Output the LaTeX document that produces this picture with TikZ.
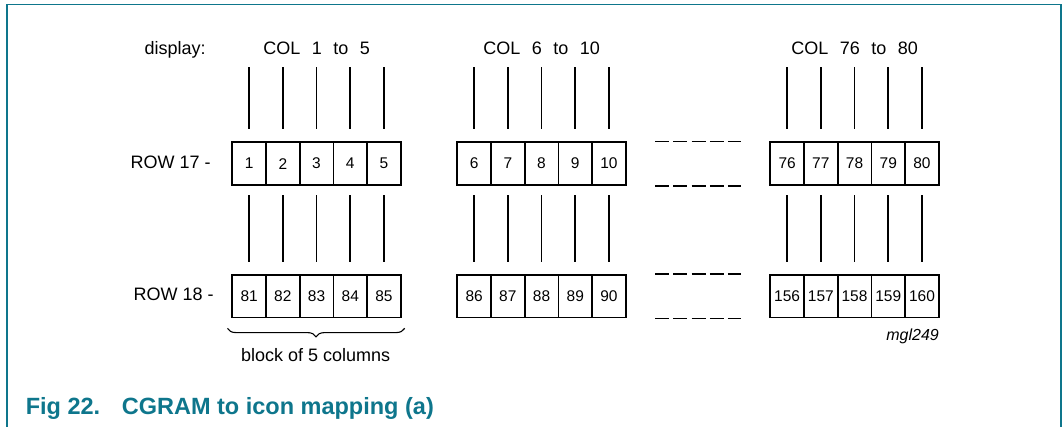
\documentclass[tikz,border=0pt]{standalone}
\usepackage{fontspec}
\setmainfont{Liberation Sans}
\usepackage{xcolor}
\usepackage{tikz}
\usetikzlibrary{positioning,decorations.pathreplacing}
\definecolor{figteal}{RGB}{14,118,140}
\newcommand{\colgap}{\hspace{11.5pt}}

\begin{document}
\begin{tikzpicture}[x=1pt, y=-1pt, line width=1.7pt,
    cell/.style={draw, minimum width=33.7pt, minimum height=42.7pt, inner sep=0pt, font=\fontsize{15.5}{18}\selectfont},
    txt/.style={inner sep=0pt, font=\fontsize{18}{21}\selectfont},
    gapline/.style={line width=1.5pt, dash pattern=on 14pt off 4.2pt, shorten <=28.5pt, shorten >=28.5pt}]

\useasboundingbox (0,0) rectangle (1063,427);

% Frame
\draw[figteal, line width=1.6pt] (7,427) -- (7,4.5) -- (1061,4.5) -- (1061,427);

% Cells, columns and wires
\foreach \blk/\first/\lx in {a/1/232.3, b/6/457.3, c/76/770.3} {
  \foreach \i in {0,...,4} {
    \pgfmathtruncatemacro{\rowa}{\first+\i}
    \pgfmathtruncatemacro{\rowb}{\first+\i+80}
    \node[cell] (cell\rowa) at ({\lx+16.85+33.7*\i},163.65) {\rowa};
    \node[cell] (cell\rowb) at ({\lx+16.85+33.7*\i},296.15) {\rowb};
    \coordinate (wire\rowa) at ([yshift=74pt]cell\rowa.north);
    \draw[shorten >=12.3pt] (wire\rowa) -- (cell\rowa);
    \draw[shorten <=9.3pt, shorten >=12.3pt] (cell\rowa) -- (cell\rowb);
  }
}

% Gaps between blocks
\draw[gapline] (cell10.north east) -- (cell76.north west);
\draw[gapline] (cell10.south east) -- (cell76.south west);
\draw[gapline] (cell90.north east) -- (cell156.north west);
\draw[gapline] (cell90.south east) -- (cell156.south west);

% Labels
\node[txt, anchor=base] (colA) at ([yshift=87.2pt]cell3.north) {COL\colgap 1\colgap to\colgap 5};
\node[txt, anchor=base] (colB) at ([yshift=87.2pt]cell8.north) {COL\colgap 6\colgap to\colgap 10};
\node[txt, anchor=base] (colC) at ([yshift=87.2pt]cell78.north) {COL\colgap 76\colgap to\colgap 80};
\node[txt, anchor=base east] (disp) at ([xshift=-56pt]colA.base west) {display:};
\node[txt, anchor=base east] (row17) at ([xshift=-20pt,yshift=-4.4pt]cell1.west) {ROW 17 -};
\node[txt, anchor=base east] (row18) at ([xshift=-17pt,yshift=-4.4pt]cell81.west) {ROW 18 -};

% Brace
\draw[decorate, decoration={brace, mirror, amplitude=8.5pt}, line width=1.1pt]
  ([xshift=-4pt,yshift=-10pt]cell81.south west) -- ([xshift=3pt,yshift=-10pt]cell85.south east);
\node[txt, anchor=base] (blocktxt) at ([xshift=-1pt,yshift=-43pt]cell83.south) {block of 5 columns};

\node[anchor=base east, inner sep=0pt, font=\fontsize{16}{19}\selectfont\itshape] (figcode)
  at ([yshift=-22pt]cell160.south east) {mgl249};

% Caption
\node[anchor=base west, inner sep=0pt, text=figteal, font=\fontsize{23.5}{28}\selectfont\bfseries] (caption)
  at (25,414.3) {\makebox[96pt][l]{Fig 22.}CGRAM to icon mapping (a)};

\end{tikzpicture}
\end{document}
